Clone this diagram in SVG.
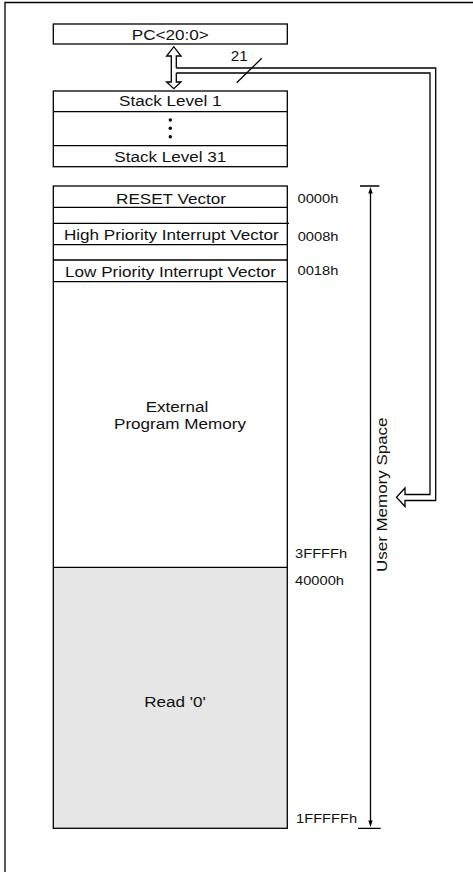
<svg xmlns="http://www.w3.org/2000/svg" width="473" height="872" viewBox="0 0 473 872">
<style>
.ln{fill:none;stroke:#000;stroke-width:1.3}
.box{fill:#fff;stroke:#000;stroke-width:1.3}
.t{font-family:"Liberation Sans",Arial,sans-serif;font-size:14.5px;fill:#111}
.a{font-family:"Liberation Sans",Arial,sans-serif;font-size:13px;fill:#111}
.m{text-anchor:middle}
</style>
<rect width="473" height="872" fill="#fff"/>
<g id="frame">
<path class="ln" d="M473,2.5 H5 V872"/>
</g>
<g id="pc">
<rect class="box" x="53.3" y="24" width="234" height="20"/>
<text class="t m" transform="translate(170.3,39.5) scale(1.18,1)">PC&lt;20:0&gt;</text>
</g>
<g id="stack">
<rect class="box" x="53.3" y="91" width="234" height="75.7"/>
<path class="ln" d="M53.3,111.7 H287.3 M53.3,145.7 H287.3"/>
<text class="t m" transform="translate(170.3,106.2) scale(1.18,1)">Stack Level 1</text>
<circle cx="170.3" cy="120" r="1.7"/>
<circle cx="170.3" cy="128.3" r="1.7"/>
<circle cx="170.3" cy="136.7" r="1.7"/>
<text class="t m" transform="translate(170.3,162.2) scale(1.18,1)">Stack Level 31</text>
</g>
<g id="memory">
<rect x="53.3" y="567.3" width="234" height="261" fill="#e6e6e6"/>
<rect class="ln" x="53.3" y="186" width="234" height="642.3"/>
<path class="ln" d="M53.3,207.3 H287.3 M53.3,223.3 H289 M53.3,244.7 H287.3 M53.3,260 H287.3 M53.3,281.7 H287.3 M53.3,567.3 H287.3"/>
<text class="t m" transform="translate(171,204) scale(1.18,1)">RESET Vector</text>
<text class="t m" transform="translate(171.3,239.5) scale(1.18,1)">High Priority Interrupt Vector</text>
<text class="t m" transform="translate(170.5,276.5) scale(1.18,1)">Low Priority Interrupt Vector</text>
<text class="t m" transform="translate(177,412.3) scale(1.18,1)">External</text>
<text class="t m" transform="translate(180,429) scale(1.18,1)">Program Memory</text>
<text class="t m" transform="translate(175,706.7) scale(1.18,1)">Read '0'</text>
</g>
<g id="addresses">
<text class="a" transform="translate(297.5,202.7) scale(1.13,1)">0000h</text>
<text class="a" transform="translate(297.7,241) scale(1.13,1)">0008h</text>
<text class="a" transform="translate(297.5,275.3) scale(1.13,1)">0018h</text>
<text class="a" transform="translate(295,558.3) scale(1.13,1)">3FFFFh</text>
<text class="a" transform="translate(295,585) scale(1.13,1)">40000h</text>
<text class="a" transform="translate(296,823.3) scale(1.13,1)">1FFFFFh</text>
</g>
<g id="connectors">
<path class="ln" d="M176.3,68 V56 H181 L173.8,46.7 L166.6,56 H171.3 V82 H166.6 L173.8,88.7 L181,82 H176.3 V73"/>
<path class="ln" d="M176.3,68 H435.7 V500.5 H405 V506.5 L396.5,497.3 L405,488 V494.5 H430 V73 H176.3"/>
<path class="ln" d="M236.7,82.7 L261.7,58.3"/>
<text class="t" transform="translate(230.8,60.8) scale(1.05,1)">21</text>
<path class="ln" d="M360,186 H379.3 M358,828.3 H380.7 M370.5,191 V822"/>
<path d="M370.5,187 L368.3,193.5 H372.7 Z M370.5,827 L368.3,820.5 H372.7 Z" fill="#000"/>
<text class="t" transform="translate(386.8,572) rotate(-90) scale(1.17,1)">User Memory Space</text>
</g>
</svg>
